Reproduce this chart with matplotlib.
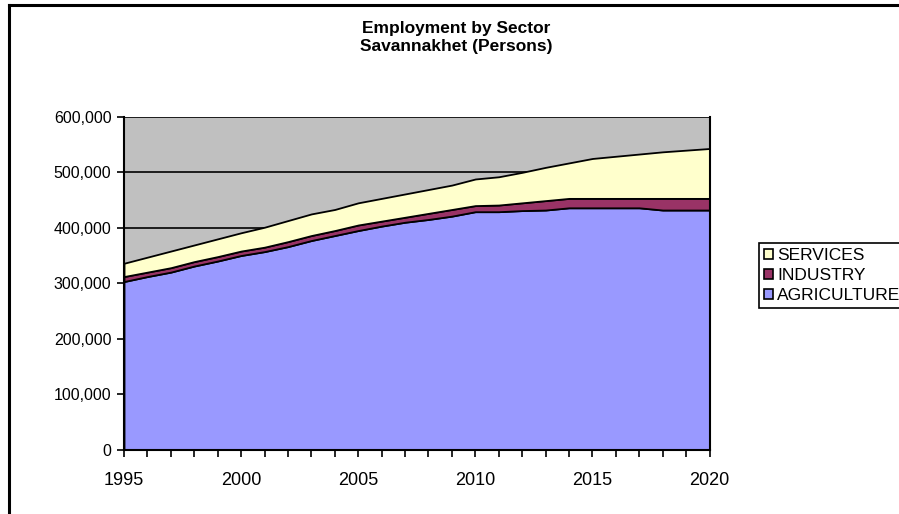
import matplotlib.pyplot as plt
from matplotlib.lines import Line2D
from matplotlib.patches import Patch
from matplotlib.ticker import FuncFormatter, MultipleLocator

plt.rcParams['font.family'] = ['Liberation Sans', 'DejaVu Sans']

years = list(range(1995, 2021))
agriculture = [303, 312, 320, 331, 340, 350, 357, 366, 377, 386, 395, 403, 410,
               415, 421, 429, 429, 431, 432, 436, 436, 436, 436, 432, 432, 432]
industry = [9, 8, 8, 8, 8, 8, 8, 9, 9, 9, 10, 9, 9,
            11, 12, 11, 12, 14, 17, 17, 17, 17, 17, 21, 21, 21]
services = [24, 27, 30, 30, 32, 33, 36, 38, 39, 38, 40, 41, 42,
            43, 44, 48, 51, 55, 60, 64, 72, 76, 80, 84, 87, 90]
agriculture = [v * 1000 for v in agriculture]
industry = [v * 1000 for v in industry]
services = [v * 1000 for v in services]
names = ['AGRICULTURE', 'INDUSTRY', 'SERVICES']
colors = ['#9999FF', '#993366', '#FFFFCC']

fig = plt.figure(figsize=(8.99, 5.14), dpi=100)
ax = fig.add_axes([124/899, 1-449.5/514, (709.5-124)/899, (449.5-116.9)/514])
ax.set_facecolor('#C0C0C0')

ax.stackplot(years, agriculture, industry, services, colors=colors,
             edgecolor='black', linewidth=1.3, zorder=2)
ax.yaxis.grid(True, color='black', linewidth=1.2, zorder=1)
ax.set_axisbelow(True)

ax.set_xlim(1995, 2020)
ax.set_ylim(0, 600000)
ax.xaxis.set_major_locator(MultipleLocator(5))
ax.xaxis.set_minor_locator(MultipleLocator(1))
ax.yaxis.set_major_locator(MultipleLocator(100000))
ax.yaxis.set_major_formatter(FuncFormatter(lambda v, p: '{:,.0f}'.format(v)))
ax.tick_params(axis='both', which='both', direction='out', length=5, width=1.2,
               colors='black')
ax.tick_params(axis='y', labelsize=11.5, pad=4)
ax.tick_params(axis='x', labelsize=13, pad=11)
for s in ['left', 'bottom']:
    ax.spines[s].set_linewidth(1.5)
for s in ['top', 'right']:
    ax.spines[s].set_visible(False)
ax.plot([2020, 2020], [0, 600000], color='black', lw=1.5, zorder=3, clip_on=False)

fig.text(456/899, 1-29/514, 'Employment by Sector', ha='center', va='center',
         fontsize=12.5, fontweight='bold')
fig.text(456/899, 1-47/514, 'Savannakhet (Persons)', ha='center', va='center',
         fontsize=12.5, fontweight='bold')

handles = [Patch(facecolor=colors[i], edgecolor='black', linewidth=1.2, label=names[i])
           for i in [2, 1, 0]]
leg = fig.legend(handles=handles, loc='upper left',
                 bbox_to_anchor=(759/899, 1-243/514), fontsize=12.5,
                 handlelength=0.5, handleheight=0.5, handletextpad=0.25,
                 labelspacing=0.28, borderpad=0.3, borderaxespad=0,
                 fancybox=False, framealpha=1)
leg.get_frame().set_edgecolor('black')
leg.get_frame().set_linewidth(1.2)

# outer chart frame (cut off at right and bottom)
fig.add_artist(Line2D([8.5/899, 8.5/899], [0, 1-5/514], color='black', lw=2.2))
fig.add_artist(Line2D([8.5/899, 1], [1-5/514, 1-5/514], color='black', lw=2.2))

fig.savefig('out.png', dpi=100)
